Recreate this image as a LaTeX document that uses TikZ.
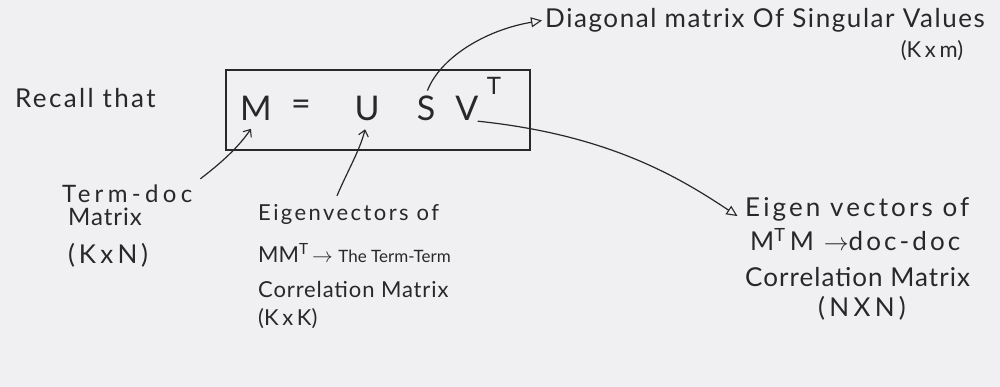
\documentclass[tikz,border=0pt]{standalone}
\usepackage{fontspec}
\setmainfont{Lato}
\usetikzlibrary{arrows.meta}
\definecolor{paper}{RGB}{240,239,241}
\definecolor{ink}{RGB}{40,40,42}
% handwriting-like text: size and letter spacing
\newcommand{\hw}[2]{\fontsize{#1}{#1}\selectfont\addfontfeature{LetterSpace=#2}}
\begin{document}
\begin{tikzpicture}[x=1pt,y=-1pt,
  pen/.style={line width=1.2pt, draw=ink},
  txt/.style={inner sep=0pt, text=ink, anchor=west},
  eq/.style={inner sep=1pt, text=ink, font=\fontsize{34}{38}\selectfont},
  openhead/.style={-{Triangle[open,length=11pt,width=10pt,line width=1.1pt]}},
  barbhead/.style={-{Straight Barb[length=6pt,width=10pt,line width=1.1pt]}}]
  % paper
  \fill[paper] (0,0) rectangle (1000,387);
  \useasboundingbox (0,0) rectangle (1000,387);

  % left caption
  \node[txt] (recall) at (15,98) {\hw{26}{9}Recall that};

  % boxed factorisation
  \node[pen, draw, minimum width=304pt, minimum height=80pt] (eqbox) at (378,110) {};
  \node[eq] (M) at (256,108) {M};
  \node[eq] (eqs) at (301,108) {=};
  \node[eq] (U) at (367,108) {U};
  \node[eq] (S) at (426,108) {S};
  \node[eq] (V) at (467,108) {V};
  \node[inner sep=0pt, text=ink, font=\fontsize{24}{28}\selectfont] (T) at (494,86) {T};

  % singular values
  \node[txt] (diag) at (545,20) {\hw{26}{6}Diagonal matrix Of Singular Values};
  \node[txt, anchor=center] (kxm) at (932,51) {\hw{22}{0}(K\,x\,m)};

  % term-doc matrix
  \node[txt] (td1) at (62,194) {\hw{24}{18}Term-doc};
  \node[txt] (td2) at (68,217) {\hw{24}{4}Matrix};
  \node[txt] (td3) at (68,255) {\hw{26}{14}(K\,x\,N)};

  % left singular vectors
  \node[txt] (eu1) at (258,214) {\hw{22}{11}Eigenvectors of};
  \node[txt] (eu2) at (258,253) {\hw{22}{0}MM\textsuperscript{T}$\,\rightarrow$ {\fontsize{17}{20}\selectfont The Term-Term}};
  \node[txt] (eu3) at (258,289) {\hw{22}{4}Correlation Matrix};
  \node[txt] (eu4) at (258,319) {\hw{22}{0}(K\,x\,K)};

  % right singular vectors
  \node[txt] (ev1) at (745,209) {\hw{26}{12}Eigen vectors of};
  \node[txt] (ev2) at (750,240) {\hw{26}{12}M\textsuperscript{T}\,M $\rightarrow$doc-doc};
  \node[txt] (ev3) at (745,277) {\hw{26}{4}Correlation Matrix};
  \node[txt, anchor=center] (ev4) at (862,308) {\hw{26}{10}(\,N\,X\,N\,)};

  % connectors
  \draw[pen, openhead, shorten <=4pt, shorten >=3pt]
    (S.north) .. controls (440,58) and (485,30) .. (diag.west);
  \draw[pen, openhead, shorten <=-2pt, shorten >=9pt]
    (V.south east) .. controls (610,135) and (680,178) .. (ev1.south west);
  \draw[pen, barbhead, shorten <=10pt, shorten >=9pt]
    (td1.north east) .. controls (225,160) and (240,145) .. (M.south);
  \draw[pen, barbhead, shorten >=8pt]
    ([xshift=79pt,yshift=8pt]eu1.north west) .. controls (348,170) and (360,150) .. (U.south);
\end{tikzpicture}
\end{document}
